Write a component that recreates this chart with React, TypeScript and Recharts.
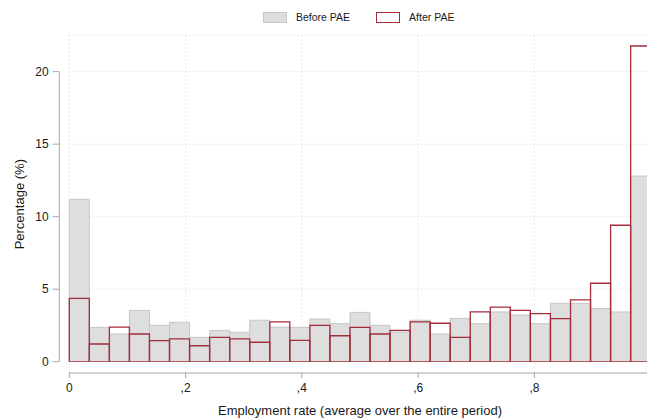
import { Bar, BarChart, CartesianGrid, Legend, XAxis, YAxis } from "recharts"

// Share of individuals per employment-rate bin (29 equal bins over [0, 1]), in %
const beforePae = [
  11.2, 2.37, 1.91, 3.54, 2.51, 2.72, 1.68, 2.16, 2.03, 2.86, 2.39, 2.37, 2.94, 2.62, 3.4,
  2.51, 2.05, 2.86, 1.91, 2.99, 2.62, 3.43, 3.22, 2.62, 4.03, 4.03, 3.66, 3.43, 12.8,
]
const afterPae = [
  4.37, 1.22, 2.39, 1.91, 1.45, 1.57, 1.1, 1.68, 1.57, 1.34, 2.74, 1.47, 2.51, 1.79, 2.37,
  1.91, 2.16, 2.74, 2.65, 1.68, 3.43, 3.77, 3.54, 3.31, 2.97, 4.26, 5.41, 9.41, 21.77,
]

const xTicks = [0, 0.2, 0.4, 0.6, 0.8]
const xTickLabels = ["0", ",2", ",4", ",6", ",8"]
const yTicks = [0, 5, 10, 15, 20]

// histogram bins: equal width over the [0, 1] employment-rate range
const binWidth = 1 / beforePae.length
const data = beforePae.map((v, i) => ({ bin: i, binStart: i * binWidth, before: v, after: afterPae[i] }))

const FONT = '"Liberation Sans", Arial, sans-serif'
const AXIS = "#a6a6a6"
const GRID = "#d4d4d4"
const GRAY_FILL = "#dedede"
const GRAY_LINE = "#c6c6c6"
const RED = "#a22d3c"
const TEXT = "#1a1a1a"

const Y_DOMAIN: [number, number] = [0, 22.5]
const Y_PADDING = { top: 0, bottom: 11.3 }

function LegendBox() {
  const item = (label: string, fill: string, stroke: string) => (
    <div style={{ display: "flex", alignItems: "center" }}>
      <span style={{ width: 22, height: 9, background: fill, border: `1px solid ${stroke}`, display: "inline-block" }} />
      <span style={{ marginLeft: 9 }}>{label}</span>
    </div>
  )
  return (
    <div style={{ display: "flex", justifyContent: "center", gap: 26, fontFamily: FONT, fontSize: 10.5, color: TEXT }}>
      {item("Before PAE", GRAY_FILL, GRAY_LINE)}
      {item("After PAE", "#ffffff", RED)}
    </div>
  )
}

export default function App() {
  return (
    <div style={{ position: "absolute", left: 0, top: 0, width: 647, height: 419, overflow: "hidden", background: "#fff" }}>
      <BarChart
        width={660}
        height={419}
        data={data}
        margin={{ top: 35.4, right: 9.3, bottom: 0, left: 0 }}
        barCategoryGap={0}
        barGap={0}
      >
        <CartesianGrid xAxisId="num" yAxisId="frame" stroke={GRID} strokeDasharray="1 3" />
        <XAxis xAxisId="bins" dataKey="bin" hide height={0} />
        <XAxis xAxisId="binsAfter" dataKey="bin" hide height={0} />
        <XAxis
          xAxisId="num"
          dataKey="binStart"
          type="number"
          domain={[0, 1]}
          allowDataOverflow
          ticks={xTicks}
          tickFormatter={(v: number) => xTickLabels[xTicks.indexOf(v)]}
          height={46}
          stroke={AXIS}
          tickSize={5}
          tickMargin={5}
          tick={{ fill: TEXT, fontSize: 12, fontFamily: FONT }}
          label={{
            value: "Employment rate (average over the entire period)",
            position: "insideBottom",
            offset: 4,
            fill: TEXT,
            fontSize: 13,
            fontFamily: FONT,
          }}
        />
        {/* spacer axis: keeps the drawn y axis a little away from the bars */}
        <YAxis width={10} domain={Y_DOMAIN} allowDataOverflow ticks={yTicks} padding={Y_PADDING} tick={false} axisLine={false} tickLine={false} />
        <YAxis
          yAxisId="frame"
          width={59.3}
          domain={Y_DOMAIN}
          allowDataOverflow
          ticks={yTicks}
          padding={Y_PADDING}
          axisLine={{ stroke: AXIS, strokeDasharray: "0 36.3 290 400" }}
          tickLine={{ stroke: AXIS }}
          tickSize={6.6}
          tickMargin={4}
          tick={{ fill: TEXT, fontSize: 12, fontFamily: FONT }}
          label={{
            value: "Percentage (%)",
            angle: -90,
            position: "insideLeft",
            offset: 19,
            style: { textAnchor: "middle" },
            fill: TEXT,
            fontSize: 13,
            fontFamily: FONT,
          }}
        />
        <Legend
          verticalAlign="middle"
          align="center"
          content={<LegendBox />}
          wrapperStyle={{ top: 11, left: 68, width: 581.4 }}
        />
        <Bar xAxisId="bins" dataKey="before" name="Before PAE" fill={GRAY_FILL} stroke={GRAY_LINE} strokeWidth={1} isAnimationActive={false} />
        <Bar xAxisId="binsAfter" dataKey="after" name="After PAE" fill="none" stroke={RED} strokeWidth={1.3} isAnimationActive={false} />
      </BarChart>
    </div>
  )
}
